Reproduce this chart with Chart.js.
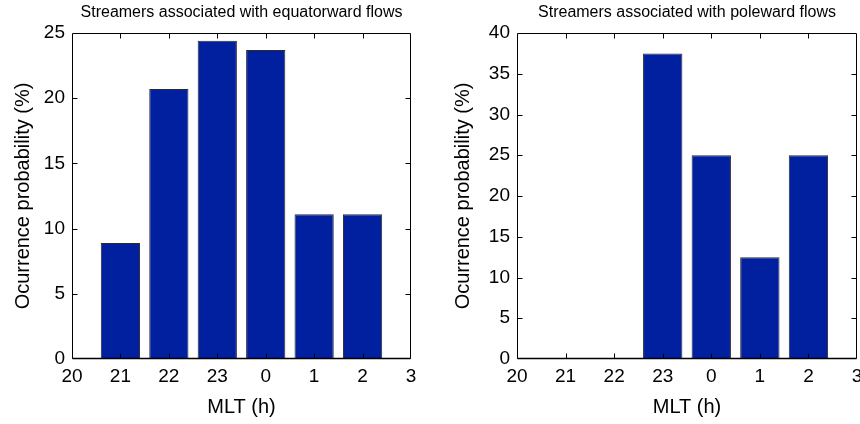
<!DOCTYPE html>
<html>
<head>
<meta charset="utf-8">
<script src="https://cdn.jsdelivr.net/npm/chart.js@4/dist/chart.umd.min.js"></script>
<style>
  html, body { margin: 0; padding: 0; background: #fff; }
  body { width: 860px; height: 424px; overflow: hidden; position: relative; }
  canvas { position: absolute; top: 0; }
  #left { left: 0; }
  #right { left: 430px; }
</style>
</head>
<body>
<canvas id="left" width="430" height="424"></canvas>
<canvas id="right" width="440" height="424"></canvas>
<script>
// MLT hour bins (h), wrapping through midnight
const mltLabels = ['20', '21', '22', '23', '0', '1', '2', '3'];

// Occurrence probability (%) per MLT bin
const equatorwardProb = [null, 8.9, 20.7, 24.4, 23.7, 11.1, 11.1, null];
const polewardProb    = [null, 0, 0, 37.5, 25, 12.5, 25, null];

const equatorwardTitle = 'Streamers associated with equatorward flows';
const polewardTitle = 'Streamers associated with poleward flows';
const xTitle = 'MLT (h)';
const yTitle = 'Ocurrence probability (%)';

const FONT = "'Liberation Sans', Arial, Helvetica, sans-serif";
const BAR_FILL = '#0020A0';
const BAR_EDGE = '#2b2b2b';

// Box frame with inward tick marks on all four sides
const framePlugin = {
  id: 'frame',
  afterDatasetsDraw(chart) {
    const { ctx, chartArea: a, scales } = chart;
    const L = Math.round(a.left) + 0.5, R = Math.round(a.right) - 0.5;
    const T = Math.round(a.top) + 0.5, B = Math.round(a.bottom) - 0.5;
    const len = 5;
    ctx.save();
    ctx.strokeStyle = '#000';
    ctx.lineWidth = 1;
    ctx.beginPath();
    ctx.rect(L, T, R - L, B - T);
    const xs = scales.x;
    xs.ticks.forEach((t, i) => {
      if (i === 0 || i === xs.ticks.length - 1) return;
      const px = Math.round(xs.getPixelForTick(i)) + 0.5;
      ctx.moveTo(px, B); ctx.lineTo(px, B - len);
      ctx.moveTo(px, T); ctx.lineTo(px, T + len);
    });
    const ys = scales.y;
    ys.ticks.forEach((t, i) => {
      if (i === 0 || i === ys.ticks.length - 1) return;
      const py = Math.round(ys.getPixelForTick(i)) + 0.5;
      ctx.moveTo(L, py); ctx.lineTo(L + len, py);
      ctx.moveTo(R, py); ctx.lineTo(R - len, py);
    });
    ctx.stroke();
    // heavier baseline at zero
    ctx.lineWidth = 1.6;
    ctx.beginPath();
    ctx.moveTo(L, B); ctx.lineTo(R, B);
    ctx.stroke();
    ctx.restore();
  }
};

function makeChart(id, title, values, yMax, yAxisWidth, rightPad, yTitlePad) {
  return new Chart(document.getElementById(id), {
    type: 'bar',
    data: {
      labels: mltLabels,
      datasets: [{
        data: values,
        backgroundColor: BAR_FILL,
        borderColor: BAR_EDGE,
        borderWidth: 1,
        categoryPercentage: 1,
        barPercentage: 0.81
      }]
    },
    options: {
      responsive: false,
      animation: false,
      events: [],
      layout: { padding: { left: 0, right: rightPad, top: 0, bottom: 0 } },
      plugins: {
        legend: { display: false },
        tooltip: { enabled: false },
        title: {
          display: true,
          text: title,
          fullSize: false,
          color: '#000',
          font: { family: FONT, size: 16, weight: 'normal' },
          padding: { top: 3, bottom: 10.8 }
        }
      },
      scales: {
        x: {
          type: 'category',
          offset: false,
          grid: { display: false, drawTicks: false, tickLength: 0 },
          border: { display: false },
          ticks: {
            color: '#000',
            font: { family: FONT, size: 19 },
            padding: 6,
            maxRotation: 0,
            autoSkip: false
          },
          title: {
            display: true,
            text: xTitle,
            color: '#000',
            font: { family: FONT, size: 20 },
            padding: { top: 0, bottom: 5 }
          },
          afterFit(scale) { scale.height = 65; }
        },
        y: {
          min: 0,
          max: yMax,
          grid: { display: false, drawTicks: false, tickLength: 0 },
          border: { display: false },
          ticks: {
            stepSize: 5,
            color: '#000',
            font: { family: FONT, size: 19 },
            padding: 7
          },
          title: {
            display: true,
            text: yTitle,
            color: '#000',
            font: { family: FONT, size: 20 },
            padding: { top: yTitlePad, bottom: 0 }
          },
          afterFit(scale) { scale.width = yAxisWidth; }
        }
      }
    },
    plugins: [framePlugin]
  });
}

makeChart('left', equatorwardTitle, equatorwardProb, 25, 72, 19, 11);
makeChart('right', polewardTitle, polewardProb, 40, 87, 13, 21);
</script>
</body>
</html>
